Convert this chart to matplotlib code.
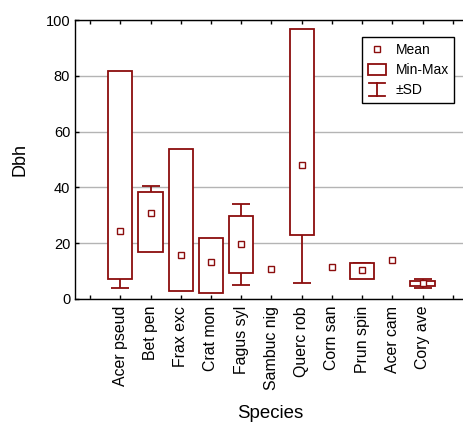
import matplotlib
matplotlib.use("Agg")
import matplotlib.pyplot as plt
import numpy as np
from matplotlib.lines import Line2D
from matplotlib.patches import Rectangle
from matplotlib.legend_handler import HandlerBase

plt.rcParams['font.family'] = ['Liberation Sans', 'DejaVu Sans']

categories = ["Acer pseud", "Bet pen", "Frax exc", "Crat mon", "Fagus syl",
              "Sambuc nig", "Querc rob", "Corn san", "Prun spin", "Acer cam", "Cory ave"]
means = [24.5, 30.7, 15.7, 13.2, 19.6, 10.9, 47.9, 11.4, 10.4, 13.9, 5.6]
mins = [7.0, 16.8, 2.9, 2.3, 9.2, np.nan, 22.8, np.nan, 7.3, np.nan, 4.6]
maxs = [81.8, 38.2, 53.8, 21.9, 29.7, np.nan, 96.8, np.nan, 12.8, np.nan, 6.6]
sds = [20.4, 9.8, 12.0, 7.0, 14.6, np.nan, 42.2, np.nan, 2.5, np.nan, 1.5]

RED = "#8b0d0d"

fig = plt.figure(figsize=(4.64, 4.22), dpi=100)
ax = fig.add_axes([75/464, 1-299/422, 1-75/464 + 0.005, (299-20)/422])

x = np.arange(1, len(categories)+1)
means_a = np.array(means); mins_a = np.array(mins); maxs_a = np.array(maxs); sds_a = np.array(sds)

# SD whiskers (behind boxes)
ok = ~np.isnan(sds_a)
ax.errorbar(x[ok], means_a[ok], yerr=sds_a[ok], fmt='none', ecolor=RED,
            elinewidth=1.3, capsize=6.4, capthick=1.3, zorder=2)
# Min-Max boxes
okb = ~np.isnan(mins_a)
ax.bar(x[okb], maxs_a[okb]-mins_a[okb], bottom=mins_a[okb], width=0.8,
       facecolor='white', edgecolor=RED, linewidth=1.3, zorder=3)
# Means
ax.plot(x, means_a, 's', ms=4.6, mfc='white', mec=RED, mew=1.0, zorder=4, linestyle='none')

ax.set_ylim(0, 100)
ax.set_xlim(-0.5, 12.45)
ax.set_yticks([0, 20, 40, 60, 80, 100])
ax.set_xticks(range(0, 13))
ax.set_xticklabels([''] + categories + [''], rotation=90, fontsize=11.4)
ax.tick_params(axis='y', labelsize=10.5, direction='in', length=3, width=1)
ax.tick_params(axis='x', direction='in', length=3, width=1, top=True, pad=5)
ax.yaxis.grid(True, color='#b4b4b4', linewidth=1.0)
ax.set_axisbelow(True)
for s in ['left', 'top', 'bottom']:
    ax.spines[s].set_linewidth(1.0)
ax.spines['right'].set_visible(False)

ax.set_ylabel("Dbh", fontsize=13, labelpad=12)
fig.text(270/464, 1-413/422, "Species", fontsize=13.4, ha='center', va='center')


class SDHandler(HandlerBase):
    def create_artists(self, legend, orig_handle, xdescent, ydescent,
                       width, height, fontsize, trans):
        cx = width/2 - xdescent
        cy = height/2 - ydescent
        hw = width*0.45
        hh = height*0.55
        l1 = Line2D([cx-hw, cx+hw], [cy+hh, cy+hh], color=RED, lw=1.3)
        l2 = Line2D([cx-hw, cx+hw], [cy-hh, cy-hh], color=RED, lw=1.3)
        l3 = Line2D([cx, cx], [cy-hh, cy+hh], color=RED, lw=1.3)
        for l in (l1, l2, l3):
            l.set_transform(trans)
        return [l1, l2, l3]


class SDProxy:
    pass


h_mean = Line2D([], [], marker='s', ms=4.6, mfc='white', mec=RED, mew=1.0, linestyle='none')
h_box = Rectangle((0, 0), 1, 1, facecolor='white', edgecolor=RED, linewidth=1.3)
h_sd = SDProxy()
leg = ax.legend([h_mean, h_box, h_sd], ["Mean", "Min-Max", "±SD"],
                handler_map={SDProxy: SDHandler()},
                loc='upper left', bbox_to_anchor=((360.5-75)/389.0, 1-(37.3-20)/279),
                fontsize=10, frameon=True, fancybox=False, edgecolor='black',
                framealpha=1, handlelength=1.3, handleheight=0.9,
                labelspacing=0.45, borderpad=0.4, handletextpad=0.7, borderaxespad=0)
leg.get_frame().set_linewidth(1.0)

fig.savefig("out.png", dpi=100)
